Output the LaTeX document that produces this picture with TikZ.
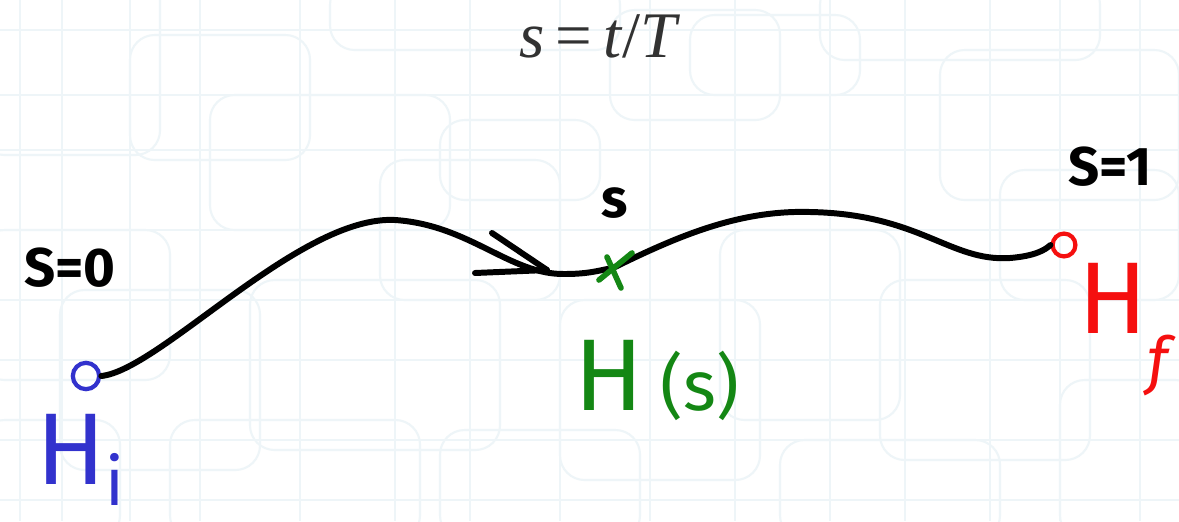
\documentclass[tikz,border=0pt]{standalone}
\usepackage{fontspec}
\setmainfont{Fira Sans}
\newfontfamily\titlefont{Liberation Serif}
\usetikzlibrary{calc}
\definecolor{bgline}{RGB}{238,245,248}
\definecolor{hblue}{RGB}{50,50,205}
\definecolor{hgreen}{RGB}{20,135,20}
\definecolor{hred}{RGB}{245,15,15}
\definecolor{titlegrey}{RGB}{50,50,50}
\tikzset{
  bgbox/.style={draw=bgline, line width=1.2pt, rounded corners=14pt},
  bgrule/.style={draw=bgline, line width=0.9pt},
  path line/.style={line width=3.4pt, line cap=round, line join=round, black},
  endring/.style={circle, draw, line width=2.4pt, minimum size=15pt, inner sep=0pt},
  hand/.style={font=\fontsize{31}{33}\selectfont\bfseries, inner sep=0pt},
  bigH/.style={font=\fontsize{58}{60}\selectfont, inner sep=0pt},
}
\begin{document}
\begin{tikzpicture}[x=0.02cm, y=-0.02cm]
\useasboundingbox (0,0) rectangle (1179,521);
\fill[white] (0,0) rectangle (1179,521);
% faint background pattern
\foreach \x in {20,62,130,200,300,395,470,560,650,735,830,905,990,1060,1140}
  \draw[bgrule] (\x,0) -- (\x,521);
\foreach \y in {30,95,150,230,300,360,440,500}
  \draw[bgrule] (0,\y) -- (1179,\y);
\foreach \a/\b/\c/\d in {-20/-30/160/155, 130/35/310/160, 210/95/450/230, 330/-20/620/50,
  440/120/600/200, 610/10/780/120, 690/15/860/95, 820/-20/1100/60, 940/50/1179/200,
  -20/230/170/380, 60/290/260/470, 250/280/500/450, 380/160/560/300, 560/300/760/480,
  720/230/900/420, 880/280/1090/460, 1000/170/1179/300, 170/420/420/540, 440/430/640/540,
  780/440/1000/540, 1060/380/1200/540, -20/420/120/540}
  \draw[bgbox] (\a,\b) rectangle (\c,\d);
% title
\node[titlegrey, font=\titlefont\fontsize{37}{40}\selectfont, inner sep=0pt] (title) at (600,36)
  {\textit{s}\,=\,\textit{t}/\textit{T}};
% end points
\node[endring, draw=hblue] (Hi) at (86,376) {};
\node[endring, draw=hred, minimum size=13pt] (Hf) at (1064,245) {};
\coordinate (Hs) at (613,268);
% curve
\draw[path line] (Hi.east) .. controls (160,370) and (300,215) .. (395,220)
  .. controls (470,225) and (510,275) .. (565,274)
  .. controls (590,274) and (600,270) .. (Hs)
  .. controls (680,235) and (740,210) .. (810,212)
  .. controls (920,214) and (950,262) .. (1010,258)
  .. controls (1035,256) and (1045,250) .. (Hf.west);
% arrowhead
\coordinate (tip) at (547,270);
\draw[path line] (492,233) -- (tip);
\draw[path line] (475,273) -- (tip);
% green cross at s
\draw[hgreen, line width=3.2pt, line cap=round] (607,257) -- (621,288);
\draw[hgreen, line width=3.2pt, line cap=round] (599,280) -- (632,253);
% labels
\node[hand] (s0) at (70,268) {S=0};
\node[hand] (s1) at (1110,167) {S=1};
\node[hand] (slab) at (615,203) {s};
\node[bigH, hblue, anchor=base west] (Hilab) at (36,484) {H\raisebox{-12pt}{\fontsize{38}{40}\selectfont i}};
\node[bigH, hgreen, anchor=base west] (Hslab) at (574,410) {H\,{\fontsize{40}{40}\selectfont(s)}};
\node[bigH, hred, anchor=base west] (Hflab) at (1078,333) {H\raisebox{-28pt}{\fontsize{36}{40}\selectfont\itshape f}};
\end{tikzpicture}
\end{document}
